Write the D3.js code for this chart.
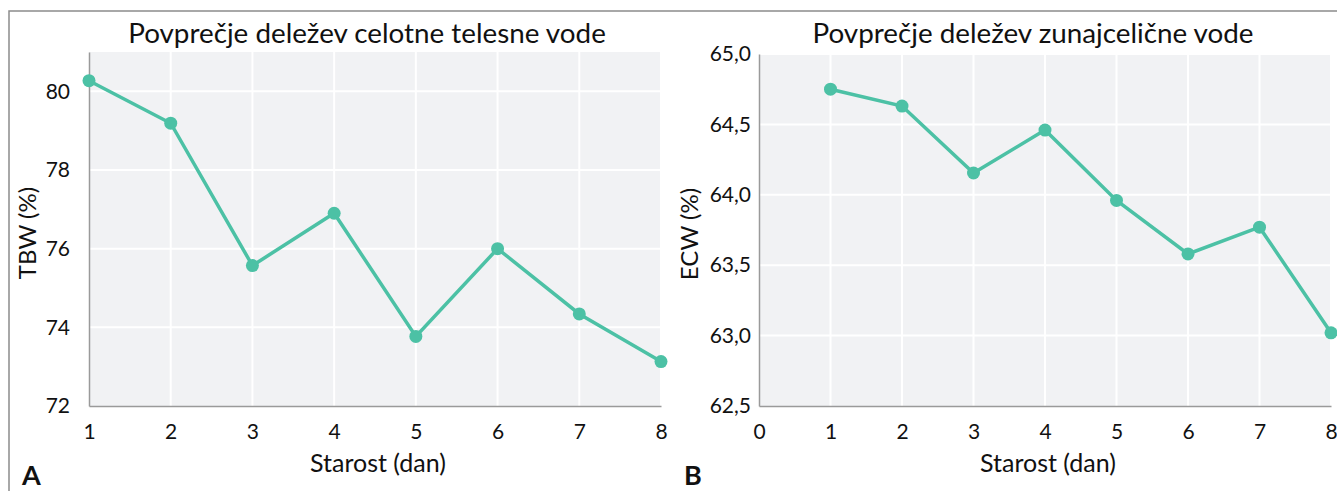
<!DOCTYPE html>
<html>
<head>
<meta charset="utf-8">
<script src="https://cdn.jsdelivr.net/npm/d3@7"></script>
<style>
  body { margin: 0; background: #fff; }
  text { font-family: Lato, "Open Sans", sans-serif; fill: #111; }
</style>
</head>
<body>
<div id="chart"></div>
<script>
// podatki
var dnevi = [1, 2, 3, 4, 5, 6, 7, 8];
var tbw = [80.27, 79.19, 75.57, 76.9, 73.77, 76.0, 74.34, 73.13];
var ecw = [64.75, 64.63, 64.155, 64.46, 63.96, 63.58, 63.77, 63.02];
var tbwTicks = [72, 74, 76, 78, 80];
var ecwTicks = [62.5, 63.0, 63.5, 64.0, 64.5, 65.0];
var xTicksA = [1, 2, 3, 4, 5, 6, 7, 8];
var xTicksB = [0, 1, 2, 3, 4, 5, 6, 7, 8];

var barva = "#4cc1a5";

var svg = d3.select("#chart")
            .append("svg")
            .attr("width", 1337)
            .attr("height", 491);

// okvir
svg.append("path")
   .attr("d", "M9,491V11H1337")
   .style("fill", "none")
   .style("stroke", "#8c8c8c")
   .style("stroke-width", 1.5);

var vejica = function (d) { return d3.format(".1f")(d).replace(".", ","); };

var panels = [
  {id: "A", x0: 89, x1: 661, y0: 52, y1: 406, xdom: [1, 8], ydom: [72, 81],
   xt: xTicksA, yt: tbwTicks, vals: tbw, fmt: d3.format("d"), pad: 19,
   naslov: "Povprečje deležev celotne telesne vode", tx: 367,
   ylab: "TBW (%)", ylx: 28, xlx: 378, crka: 22},
  {id: "B", x0: 759, x1: 1331, y0: 54, y1: 406, xdom: [0, 8], ydom: [62.5, 65],
   xt: xTicksB, yt: ecwTicks, vals: ecw, fmt: vejica, pad: 8,
   naslov: "Povprečje deležev zunajcelične vode", tx: 1033,
   ylab: "ECW (%)", ylx: 690, xlx: 1048, crka: 684}
];

panels.forEach(function (p) {
  var x = d3.scaleLinear().domain(p.xdom).range([p.x0, p.x1]);
  var y = d3.scaleLinear().domain(p.ydom).range([p.y1, p.y0]);
  var g = svg.append("g").attr("class", "panel-" + p.id);

  g.append("rect")
   .attr("x", p.x0).attr("y", p.y0)
   .attr("width", p.x1 - p.x0).attr("height", p.y1 - p.y0)
   .style("fill", "#f1f2f4");

  // mreza
  g.selectAll("line.vg")
   .data(p.xt.filter(function (d) { return d != p.xdom[0]; }))
   .enter().append("line")
   .attr("class", "vg")
   .attr("x1", function (d) { return x(d); })
   .attr("x2", function (d) { return x(d); })
   .attr("y1", p.y0).attr("y2", p.y1)
   .style("stroke", "#fff").style("stroke-width", 2);

  g.selectAll("line.hg")
   .data(p.yt.filter(function (d) { return d != p.ydom[0]; }))
   .enter().append("line")
   .attr("class", "hg")
   .attr("y1", function (d) { return y(d); })
   .attr("y2", function (d) { return y(d); })
   .attr("x1", p.x0).attr("x2", p.x1)
   .style("stroke", "#fff").style("stroke-width", 2);

  // osi
  var osX = g.append("g")
             .attr("transform", "translate(0," + p.y1 + ")")
             .call(d3.axisBottom(x).tickValues(p.xt).tickSize(0).tickPadding(18)
                     .tickFormat(d3.format("d")));
  var osY = g.append("g")
             .attr("transform", "translate(" + p.x0 + ",0)")
             .call(d3.axisLeft(y).tickValues(p.yt).tickSize(0).tickPadding(p.pad)
                     .tickFormat(p.fmt));
  [osX, osY].forEach(function (os) {
    os.select(".domain").style("stroke", "#9a9a9a").style("stroke-width", 1.5);
    os.selectAll("text").style("font-size", "21px").style("fill", "#111")
      .style("font-family", "Lato, sans-serif");
  });

  // crta in tocke
  var tocke = dnevi.map(function (d, i) { return [x(d), y(p.vals[i])]; });
  g.append("path")
   .attr("d", d3.line()(tocke))
   .style("fill", "none")
   .style("stroke", barva)
   .style("stroke-width", 3.5);

  g.selectAll("circle")
   .data(tocke)
   .enter().append("circle")
   .attr("cx", function (d) { return d[0]; })
   .attr("cy", function (d) { return d[1]; })
   .attr("r", 6.5)
   .style("fill", barva);

  // besedila
  g.append("text")
   .attr("x", p.tx).attr("y", 43)
   .style("text-anchor", "middle")
   .style("font-size", "27.8px")
   .text(p.naslov);

  g.append("text")
   .attr("transform", "translate(" + (p.ylx + 8) + "," + ((p.y0 + p.y1) / 2 + 4) + ") rotate(-90)")
   .style("text-anchor", "middle")
   .style("font-size", "24px")
   .text(p.ylab);

  g.append("text")
   .attr("x", p.xlx).attr("y", 472)
   .style("text-anchor", "middle")
   .style("font-size", "25px")
   .text("Starost (dan)");

  g.append("text")
   .attr("x", p.crka).attr("y", 485)
   .style("font-size", "27px")
   .style("font-weight", "bold")
   .text(p.id);
});
</script>
</body>
</html>
